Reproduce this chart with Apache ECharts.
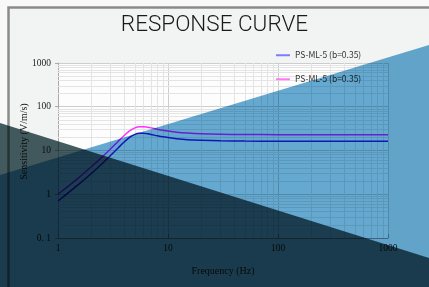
<!DOCTYPE html>
<html>
<head>
<meta charset="utf-8">
<script src="https://cdn.jsdelivr.net/npm/echarts@6/dist/echarts.min.js"></script>
<style>html,body{margin:0;padding:0;background:#f8f8f8;}#c{width:429px;height:287px;}</style>
</head>
<body>
<div id="c"></div>
<script>
// ---- data ----
const frequency = [1, 1.5, 2, 2.5, 3, 3.5, 4, 4.5, 5, 5.5, 6, 6.5, 7, 8, 9, 10, 12, 15, 20, 30, 50, 100, 200, 500, 1000];
const seriesBlue = [0.70, 1.6, 2.95, 4.92, 7.67, 11.3, 15.7, 20.1, 23.3, 24.7, 24.8, 24.1, 23.3, 21.7, 20.5, 19.7, 18.6, 17.7, 17.1, 16.6, 16.4, 16.3, 16.3, 16.3, 16.3];
const seriesMagenta = [1.0, 2.25, 4.2, 6.95, 10.8, 15.9, 22.1, 28.3, 32.9, 34.9, 34.9, 34.0, 32.9, 30.7, 29.0, 27.8, 26.2, 25.0, 24.1, 23.5, 23.2, 23.0, 23.0, 23.0, 23.0];
const seriesNames = ['PS-ML-5 (b=0.35)', 'PS-ML-5 (b=0.35) '];
const xTickLabels = ['1', '10', '100', '1000'];
const yTickLabels = ['0. 1', '1', '10', '100', '1000'];
const xMinorGrid = [2,3,4,5,6,7,8,9,20,30,40,50,60,70,80,90,200,300,400,500,600,700,800,900];
const yMinorGrid = [0.2,0.3,0.4,0.5,0.6,0.7,0.8,0.9,2,3,4,5,6,7,8,9,20,30,40,50,60,70,80,90,200,300,400,500,600,700,800,900];

const zip = (xs, ys) => xs.map((x, i) => [x, ys[i]]);
const serif = '"Liberation Serif", "DejaVu Serif", serif';
const legendFont = '"Noto Sans CJK JP", "DejaVu Sans", sans-serif';

const chart = echarts.init(document.getElementById('c'), null, {renderer: 'canvas'});
chart.setOption({
  backgroundColor: '#f8f8f8',
  animation: false,
  title: {
    text: 'RESPONSE CURVE',
    left: 'center',
    top: 14,
    padding: 0,
    textStyle: {fontFamily: '"Liberation Sans Narrow", Roboto, sans-serif', fontSize: 22.5, fontWeight: 300, color: '#1a1a1a'}
  },
  legend: [
    {left: 276, top: 51, padding: 0, orient: 'vertical', icon: 'rect', itemWidth: 14, itemHeight: 2,
     data: [{name: seriesNames[0], itemStyle: {color: '#7c7cff'}}],
     textStyle: {fontFamily: legendFont, fontSize: 8.5, color: '#333'}},
    {left: 276, top: 75, padding: 0, orient: 'vertical', icon: 'rect', itemWidth: 14, itemHeight: 2,
     data: [{name: seriesNames[1], itemStyle: {color: '#ff7cf0'}}],
     textStyle: {fontFamily: legendFont, fontSize: 8.5, color: '#333'}}
  ],
  grid: {left: 58, right: 41, top: 63, bottom: 49, show: true, backgroundColor: '#fdfdfd', borderWidth: 0, outerBoundsMode: 'none'},
  xAxis: {
    type: 'log', logBase: 10, min: 1, max: 1000,
    name: 'Frequency (Hz)', nameLocation: 'middle', nameGap: 28, nameMoveOverlap: false,
    nameTextStyle: {fontFamily: serif, fontSize: 10, color: '#222'},
    axisLine: {lineStyle: {color: '#999'}},
    axisTick: {show: true, inside: true, length: 4, lineStyle: {color: '#999'}},
    axisLabel: {fontFamily: serif, fontSize: 9.5, color: '#222', margin: 5,
      formatter: v => xTickLabels[Math.round(Math.log10(v))]},
    splitLine: {show: true, lineStyle: {color: '#cdcdcd', width: 1}}
  },
  yAxis: {
    type: 'log', logBase: 10, min: 0.1, max: 1000,
    name: 'Sensitivity (V/m/s)', nameLocation: 'middle', nameGap: 29, nameMoveOverlap: false,
    nameTextStyle: {fontFamily: serif, fontSize: 10, color: '#222', padding: [0, 0, 0, 18]},
    axisLine: {show: true, lineStyle: {color: '#aaa'}},
    axisTick: {show: true, length: 3, lineStyle: {color: '#aaa'}},
    axisLabel: {fontFamily: serif, fontSize: 9.5, color: '#222', margin: 7,
      formatter: v => yTickLabels[Math.round(Math.log10(v)) + 1]},
    splitLine: {show: true, lineStyle: {color: '#cdcdcd', width: 1}}
  },
  series: [
    {
      name: 'minor-grid', type: 'line', data: [[1, 0.1]], showSymbol: false, silent: true,
      lineStyle: {opacity: 0}, z: 1,
      markLine: {
        z: 1, silent: true, symbol: 'none', label: {show: false}, animation: false,
        lineStyle: {color: '#e4e4e4', type: 'solid', width: 1},
        data: xMinorGrid.map(v => ({xAxis: v})).concat(yMinorGrid.map(v => ({yAxis: v})))
      }
    },
    {name: seriesNames[0], type: 'line', data: zip(frequency, seriesBlue), smooth: 0.3,
     showSymbol: false, lineStyle: {color: '#2323dc', width: 1.5}, itemStyle: {color: '#2323dc'}, z: 3},
    {name: seriesNames[1], type: 'line', data: zip(frequency, seriesMagenta), smooth: 0.3,
     showSymbol: false, lineStyle: {color: '#ff30ff', width: 1.5}, itemStyle: {color: '#ff30ff'}, z: 3}
  ],
  graphic: [
    {type: 'rect', z: -10, shape: {x: 8.5, y: 7.5, width: 440, height: 300},
     style: {fill: '#f2f4f4', stroke: '#8a8a8a', lineWidth: 2.5}},
    {type: 'polygon', z: 100, silent: true,
     shape: {points: [[0, 175], [429, 45], [429, 287], [0, 287]]},
     style: {fill: '#66aad2', blend: 'multiply'}},
    {type: 'polygon', z: 101, silent: true,
     shape: {points: [[0, 123], [429, 258], [429, 287], [0, 287]]},
     style: {fill: '#445c61', blend: 'multiply'}}
  ]
});
</script>
</body>
</html>
